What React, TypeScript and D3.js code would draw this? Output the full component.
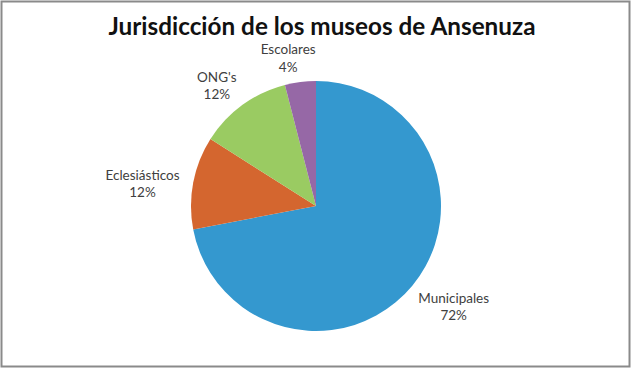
import React, { useEffect, useRef } from "react";
import * as d3 from "d3";

const categories = ["Municipales", "Eclesiásticos", "ONG's", "Escolares"];
const values = [72, 12, 12, 4];
const colors = ["#3498cf", "#d4662f", "#9acb62", "#9668a6"];
const title = "Jurisdicción de los museos de Ansenuza";

const width = 632;
const height = 368;

function PieChart() {
  const ref = useRef<SVGSVGElement>(null);

  useEffect(() => {
    const svg = d3.select(ref.current);
    svg.selectAll("*").remove();

    // frame
    svg
      .append("rect")
      .attr("x", 1.5)
      .attr("y", 1.5)
      .attr("width", width - 4)
      .attr("height", height - 3)
      .attr("fill", "#fff")
      .attr("stroke", "#8a8a8a")
      .attr("stroke-width", 2);

    svg
      .append("text")
      .attr("x", 322)
      .attr("y", 35)
      .attr("text-anchor", "middle")
      .attr("font-family", "Lato, sans-serif")
      .attr("font-weight", "bold")
      .attr("font-size", 24)
      .attr("fill", "#111")
      .attr("textLength", 427)
      .attr("lengthAdjust", "spacingAndGlyphs")
      .text(title);

    const cx = 316;
    const cy = 206;
    const r = 125;

    const data = categories.map((c, i) => ({ name: c, value: values[i], color: colors[i] }));
    const pie = d3
      .pie<any>()
      .value((d) => d.value)
      .sort(null);
    const arcs = pie(data);
    const arc = d3.arc<any>().innerRadius(0).outerRadius(r);

    const g = svg.append("g").attr("transform", `translate(${cx},${cy})`);
    g.selectAll("path")
      .data(arcs)
      .enter()
      .append("path")
      .attr("d", arc)
      .attr("fill", (d) => d.data.color);

    // labels: two lines, placed just outside the slice along its mid angle
    const total = d3.sum(values);
    const labels = g
      .selectAll("g.lbl")
      .data(arcs)
      .enter()
      .append("g")
      .attr("class", "lbl");

    labels.each(function (d) {
      const lg = d3.select(this);
      const t = lg
        .append("text")
        .attr("text-anchor", "middle")
        .attr("font-family", "Lato, sans-serif")
        .attr("font-size", 13.5)
        .attr("fill", "#404040");
      t.append("tspan").attr("x", 0).attr("dy", "-0.25em").text(d.data.name);
      t.append("tspan")
        .attr("x", 0)
        .attr("dy", "1.3em")
        .text(Math.round((d.data.value / total) * 100) + "%");

      const box = (t.node() as SVGTextElement).getBBox();
      const a = (d.startAngle + d.endAngle) / 2 - 0.06;
      const s = Math.sin(a);
      const c = -Math.cos(a);
      const dist = r + 12 + (box.width / 2) * Math.abs(s) + (box.height / 4) * Math.abs(c);
      const bx = box.x + box.width / 2;
      const by = box.y + box.height / 2;
      lg.attr("transform", `translate(${dist * s - bx},${dist * c - by})`);
    });
  }, []);

  return <svg ref={ref} width={width} height={height} style={{ display: "block" }}></svg>;
}

export default function App() {
  return (
    <div style={{ position: "absolute", left: 0, top: 0 }}>
      <PieChart />
    </div>
  );
}
